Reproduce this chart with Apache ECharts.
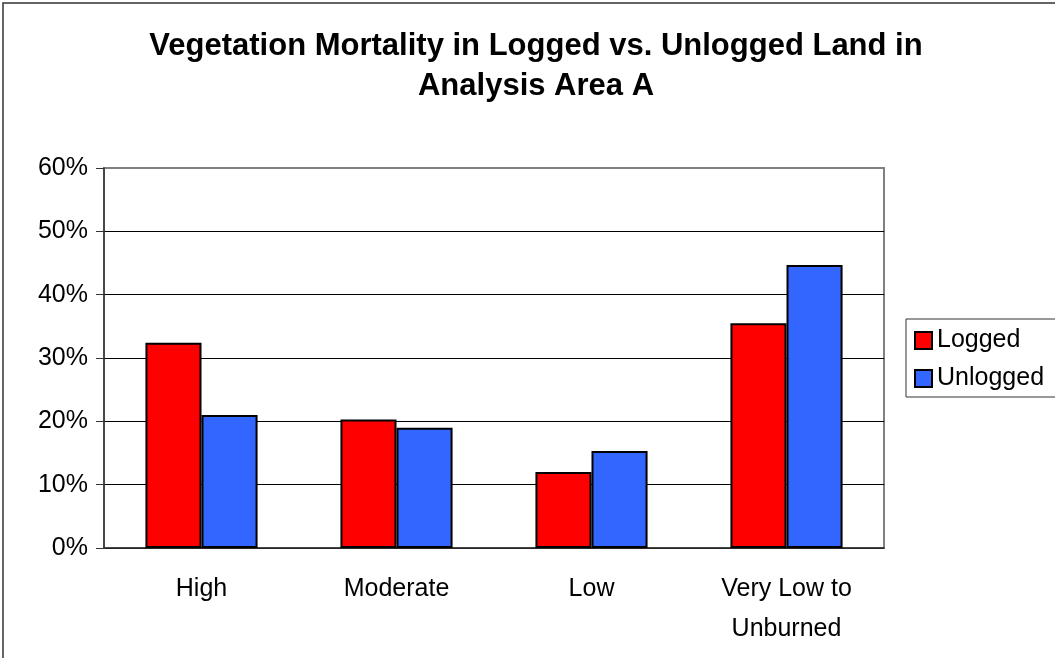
<!DOCTYPE html>
<html>
<head>
<meta charset="utf-8">
<script src="https://cdn.jsdelivr.net/npm/echarts@6/dist/echarts.min.js"></script>
<style>
  html, body { margin: 0; padding: 0; background: #fff; }
  #main { width: 1055px; height: 658px; }
</style>
</head>
<body>
<div id="main"></div>
<script>
var categories = ['High', 'Moderate', 'Low', 'Very Low to\nUnburned'];
var loggedValues = [32.4, 20.3, 12.0, 35.5];
var unloggedValues = [21.0, 19.0, 15.3, 44.7];
var yTicks = [0, 10, 20, 30, 40, 50, 60];

var myChart = echarts.init(document.getElementById('main'));

var font = 'Liberation Sans, Arial, sans-serif';

option = {
    backgroundColor: '#fff',
    textStyle: { fontFamily: font },
    // outer chart frame
    graphic: [{
        type: 'rect',
        shape: { x: 3, y: 3, width: 1100, height: 700 },
        style: { fill: 'none', stroke: '#333', lineWidth: 1.5 },
        silent: true
    }],
    title: {
        text: 'Vegetation Mortality in Logged vs. Unlogged Land in\nAnalysis Area A',
        left: 536,
        textAlign: 'center',
        top: 26,
        padding: 0,
        textStyle: {
            fontFamily: font,
            fontSize: 31,
            fontWeight: 'bold',
            color: '#000',
            lineHeight: 40
        }
    },
    legend: {
        data: ['Logged', 'Unlogged'],
        orient: 'vertical',
        left: 906,
        top: 319,
        padding: [9, 14, 6, 8],
        itemGap: 13,
        itemWidth: 17,
        itemHeight: 17,
        icon: 'rect',
        borderColor: '#333',
        borderWidth: 1,
        textStyle: { fontFamily: font, fontSize: 25, color: '#000' }
    },
    grid: {
        left: 104,
        top: 168,
        right: 171,
        bottom: 110,
        show: true,
        borderColor: '#808080',
        borderWidth: 2
    },
    xAxis: {
        type: 'category',
        data: categories,
        axisLine: { lineStyle: { color: '#333', width: 1.5 } },
        axisTick: { length: 8, lineStyle: { color: '#333' } },
        axisLabel: {
            fontFamily: font,
            fontSize: 25,
            color: '#000',
            lineHeight: 40,
            margin: 21
        }
    },
    yAxis: {
        type: 'value',
        min: yTicks[0],
        max: yTicks[yTicks.length - 1],
        interval: 10,
        axisLine: { show: true, lineStyle: { color: '#333', width: 1.5 } },
        axisTick: { show: true, length: 8, lineStyle: { color: '#333' } },
        axisLabel: {
            fontFamily: font,
            fontSize: 25,
            color: '#000',
            margin: 16,
            formatter: '{value}%'
        },
        splitLine: {
            lineStyle: {
                color: ['#000', '#000', '#000', '#000', '#000', '#000', '#808080'],
                width: 1
            }
        }
    },
    series: [{
        name: 'Logged',
        type: 'bar',
        data: loggedValues,
        barGap: '0%',
        barCategoryGap: '42.5%',
        itemStyle: { color: '#ff0000', borderColor: '#000', borderWidth: 2 }
    }, {
        name: 'Unlogged',
        type: 'bar',
        data: unloggedValues,
        itemStyle: { color: '#3366ff', borderColor: '#000', borderWidth: 2 }
    }]
};

myChart.setOption(option);
</script>
</body>
</html>
